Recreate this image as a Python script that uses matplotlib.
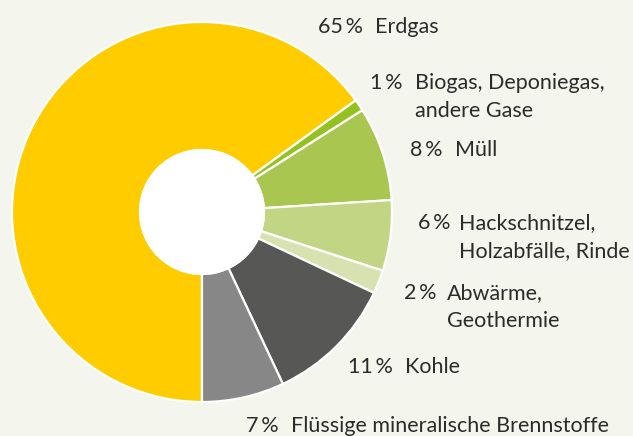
import matplotlib
matplotlib.use('Agg')
import matplotlib.pyplot as plt

# shares of heat generation by energy source (percent)
sources = ['Erdgas', 'Biogas, Deponiegas,\nandere Gase', 'Müll', 'Hackschnitzel,\nHolzabfälle, Rinde',
           'Abwärme,\nGeothermie', 'Kohle', 'Flüssige mineralische Brennstoffe']
shares = [65, 1, 8, 6, 2, 11, 7]
colors = ['#ffcc00', '#95c11f', '#a9c651', '#c2d584', '#d7e2b0', '#575756', '#878787']

W, H = 633, 436
BG = '#f4f6ee'
TXT = '#2b2b2b'
CX, CY = 202, H - 212

fig = plt.figure(figsize=(W / 100, H / 100), dpi=100, facecolor=BG)
ax = fig.add_axes([0, 0, 1, 1])
ax.set_facecolor(BG)

ax.pie(shares, colors=colors, startangle=270, counterclock=False,
       center=(CX, CY), radius=190, frame=True,
       wedgeprops=dict(width=128, edgecolor='white', linewidth=1.6))
ax.add_patch(plt.Circle((CX, CY), 63, facecolor='white', edgecolor='none', zorder=5))
ax.set_xlim(0, W)
ax.set_ylim(0, H)
ax.set_aspect('equal')
ax.axis('off')

# label layout in pixels: (right edge of percent, left edge of text, baseline of first line)
label_pos = [(363, 375, 33), (402, 415, 89), (442, 455, 156), (450, 459, 229),
             (436, 447, 299), (393, 405, 373), (279, 291, 432)]
line_gap = 28
fs = 15.5
font = 'Lato'
for share, name, (xp, xt, yb) in zip(shares, sources, label_pos):
    ax.text(xp, H - yb, f'{share}\u2009%', ha='right', va='baseline', fontsize=fs,
            color=TXT, family=font)
    for k, line in enumerate(name.split('\n')):
        ax.text(xt, H - yb - k * line_gap, line, ha='left', va='baseline', fontsize=fs,
                color=TXT, family=font)

fig.savefig('out.png', dpi=100, facecolor=BG)
